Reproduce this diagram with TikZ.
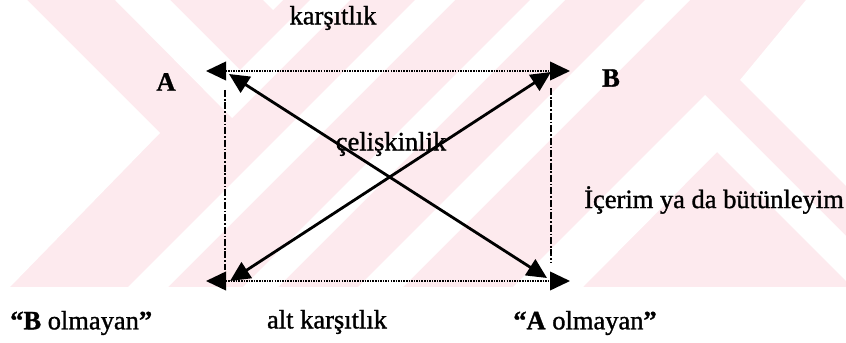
\documentclass[tikz,border=0pt]{standalone}
\usepackage{fontspec}
\setmainfont{Liberation Serif}[FakeBold=1.2]
\usetikzlibrary{arrows.meta}
\definecolor{wmpink}{RGB}{253,234,238}

\begin{document}
\begin{tikzpicture}[x=0.03cm, y=-0.03cm, >={Triangle[length=6mm, width=5.6mm]},
    lbl/.style={font=\fontsize{22.6}{26}\selectfont, inner sep=0pt},
    karsit/.style={<->, line width=1.5pt, dash pattern=on 1.3pt off 0.9pt},
    icerim/.style={line width=1.7pt, dash pattern=on 6pt off 1.6pt on 1.4pt off 1.6pt},
    celiski/.style={<->, line width=2.4pt}]

    \useasboundingbox (0,0) rectangle (846,343);

    % 0. 背景水印 (浅粉色条纹)
    \begin{scope}
        \clip (0,0) rectangle (846,287);
        \fill[wmpink] (0,0) rectangle (846,287);
        \fill[white] (0,0) -- (27,0) -- (160,133) -- (10,287) -- (0,287) -- cycle;
        \fill[white] (115,0) -- (170,0) -- (240,70) -- (310,0) -- (350,0) -- (232,118) -- cycle;
        \fill[white] (263,0) -- (283,0) -- (273,10) -- cycle;
        \foreach \a/\b in {415/455, 530/565, 645/690}
            \fill[white] (\a,0) -- (\b,0) -- (\b-287,287) -- (\a-287,287) -- cycle;
        \fill[white] (806,0) -- (846,0) -- (846,186) -- (740,80) -- cycle;
        \fill[white] (705,95) -- (846,236) -- (846,281) -- (717,152) -- (583,287) -- (513,287) -- cycle;
    \end{scope}

    % 1. 定义主要坐标点
    \coordinate (kL) at (206,71);     % 上横线左端
    \coordinate (kR) at (570,71);     % 上横线右端
    \coordinate (aL) at (206,281);    % 下横线左端
    \coordinate (aR) at (570,281);    % 下横线右端
    \coordinate (cA) at (229,74);     % 左上角
    \coordinate (cB) at (551,72);     % 右上角
    \coordinate (cBn) at (230,281);   % 左下角
    \coordinate (cAn) at (547,278);   % 右下角
    \coordinate (sol1) at (225,90);
    \coordinate (sol2) at (225,270);
    \coordinate (sag1) at (551,88);
    \coordinate (sag2) at (551,262);

    % 2. 横向虚线箭头
    \draw[karsit] (kL) -- (kR);
    \draw[karsit] (aL) -- (aR);

    % 3. 竖直点划线
    \draw[icerim] (sol1) -- (sol2);
    \draw[icerim] (sag1) -- (sag2);

    % 4. 对角线箭头
    \draw[celiski] (cA) -- (cAn);
    \draw[celiski] (cBn) -- (cB);

    % 5. 标签
    \node[lbl] (A) at (166,82) {\textbf{A}};
    \node[lbl] (B) at (611,78) {\textbf{B}};
    \node[lbl] (karsitlik) at (333,18) {karşıtlık};
    \node[lbl] (celiskinlik) at (391,144) {çelişkinlik};
    \node[lbl, anchor=west] (icerimyazi) at (584,200) {İçerim ya da bütünleyim};
    \node[lbl, anchor=west] (bolmayan) at (10,323) {\textbf{“B} olmayan\textbf{”}};
    \node[lbl] (altkarsitlik) at (327,322) {alt karşıtlık};
    \node[lbl] (aolmayan) at (585,323) {\textbf{“A} olmayan\textbf{”}};

\end{tikzpicture}
\end{document}
